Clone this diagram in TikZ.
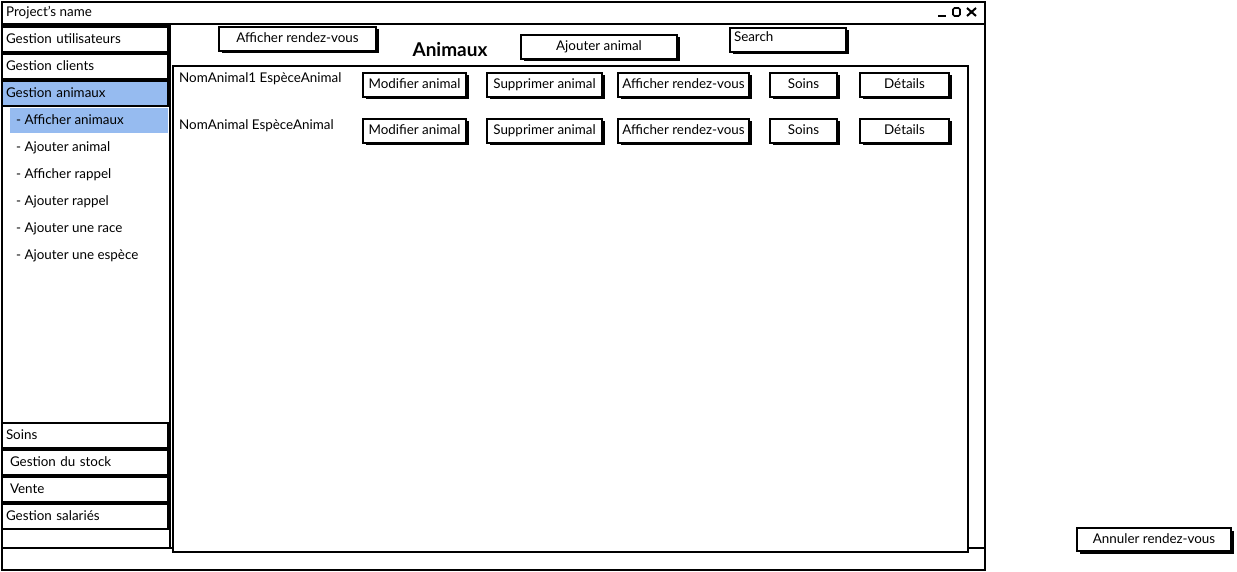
\documentclass[tikz,border=0pt]{standalone}
\usepackage{fontspec}
\setmainfont{Lato}
\usetikzlibrary{shadows}
\definecolor{selblue}{RGB}{150,187,240}
\begin{document}
\begin{tikzpicture}[x=1pt,y=-1pt,
  font=\fontsize{13.4}{15}\selectfont,
  frame/.style={draw=black, line width=1.8pt},
  btn/.style={draw=black, line width=1.2pt, fill=white, inner sep=0pt,
    minimum height=24pt, text height=10pt, text depth=2.5pt,
    drop shadow={shadow xshift=2.5pt, shadow yshift=-2.5pt, opacity=1, fill=black}},
  item/.style={draw=black, line width=1.2pt, fill=white, inner xsep=4pt, inner ysep=0pt,
    minimum width=166pt, minimum height=25pt, text width=158pt, align=left,
    text height=10pt, text depth=2.5pt},
  sub/.style={anchor=west, inner sep=0pt, text height=10pt, text depth=2.5pt},
  lbl/.style={anchor=west, inner sep=0pt, text height=10pt, text depth=2.5pt}]
\useasboundingbox (0,0) rectangle (1237,572);
% window
\draw[frame, fill=white] (2,2) rectangle (985,570);
\draw[frame] (2,24) -- (985,24);
\draw[frame] (2,548) -- (985,548);
\node[lbl] (title) at (6,13) {Project's name};
\draw[line width=2.5pt] (938,16) -- (946,16);
\draw[line width=1.6pt, rounded corners=1.5pt] (953,8) rectangle (960,16);
\draw[line width=2pt] (967,8) -- (976,16) (967,16) -- (976,8);
% sidebar
\draw[frame, fill=white] (2,25) rectangle (170,548);
\node[item] (g1) at (85,39.5) {Gestion utilisateurs};
\node[item] (g2) at (85,66.5) {Gestion clients};
\node[item, fill=selblue] (g3) at (85,93.5) {Gestion animaux};
\node[fill=selblue, minimum width=158pt, minimum height=25pt, inner sep=0pt] (s1box) at (89,120.5) {};
\node[sub] (s1) at (16,121) {- Afficher animaux};
\node[sub] (s2) at (16,148) {- Ajouter animal};
\node[sub] (s3) at (16,175) {- Afficher rappel};
\node[sub] (s4) at (16,202) {- Ajouter rappel};
\node[sub] (s5) at (16,229) {- Ajouter une race};
\node[sub] (s6) at (16,256) {- Ajouter une espèce};
\node[item] (g4) at (85,435.5) {Soins};
\node[item] (g5) at (85,462.5) {\hspace*{4pt}Gestion du stock};
\node[item] (g6) at (85,489.5) {\hspace*{4pt}Vente};
\node[item] (g7) at (85,516.5) {Gestion salariés};
% content panel
\draw[frame, fill=white] (173,66) rectangle (968,552);
% header
\node[btn, minimum width=157pt] (hb1) at (297.5,39) {Afficher rendez-vous};
\node[font=\fontsize{19}{21}\selectfont\bfseries] (head) at (450,50) {Animaux};
\node[btn, minimum width=156pt] (hb2) at (599,47) {Ajouter animal};
\node[btn, minimum width=116pt, text width=108pt, align=left, inner xsep=4pt,
  drop shadow={shadow xshift=1pt, shadow yshift=-1pt, opacity=1, fill=black}] (search) at (788,40) {\raisebox{2pt}{Search}};
% rows
\node[lbl] (n1) at (179,79) {NomAnimal1 EspèceAnimal};
\node[lbl] (n2) at (179,126) {NomAnimal EspèceAnimal};
\node[btn, minimum width=103pt] (a1) at (414.5,85) {Modifier animal};
\node[btn, minimum width=115pt] (b1) at (544.5,85) {Supprimer animal};
\node[btn, minimum width=131pt] (c1) at (683.5,85) {Afficher rendez-vous};
\node[btn, minimum width=67pt] (d1) at (803.5,85) {Soins};
\node[btn, minimum width=89pt] (e1) at (904.5,85) {Détails};
\node[btn, minimum width=103pt] (a2) at (414.5,131) {Modifier animal};
\node[btn, minimum width=115pt] (b2) at (544.5,131) {Supprimer animal};
\node[btn, minimum width=131pt] (c2) at (683.5,131) {Afficher rendez-vous};
\node[btn, minimum width=67pt] (d2) at (803.5,131) {Soins};
\node[btn, minimum width=89pt] (e2) at (904.5,131) {Détails};
% outside button
\node[btn, minimum width=154pt, minimum height=23pt] (cancel) at (1154,539.5) {Annuler rendez-vous};
\end{tikzpicture}
\end{document}
